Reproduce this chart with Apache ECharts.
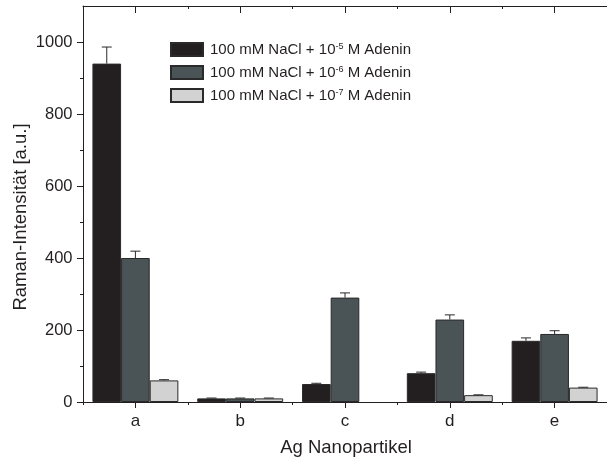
<!DOCTYPE html>
<html>
<head>
<meta charset="utf-8">
<script src="https://cdn.jsdelivr.net/npm/echarts@6/dist/echarts.min.js"></script>
<style>html,body{margin:0;padding:0;background:#fff;}#c{width:607px;height:463px;}</style>
</head>
<body>
<div id="c"></div>
<script>
var categories = ['a', 'b', 'c', 'd', 'e'];
var exponents = ['-5', '-6', '-7'];
var values5 = [940, 10, 50, 80, 170];
var errors5 = [46, 1, 2, 3, 8];
var values6 = [400, 10, 290, 229, 189];
var errors6 = [19, 1, 13, 13, 9];
var values7 = [60, 10, null, 19, 40];
var errors7 = [2, 1, 0, 1, 1];
var yMajorTicks = [0, 200, 400, 600, 800, 1000];
var yMinorTicks = [100, 300, 500, 700, 900];
var xTitle = 'Ag Nanopartikel';
var yTitle = 'Raman-Intensität [a.u.]';

var FONT = "'Liberation Sans', Arial, Helvetica, sans-serif";
var TXT = '#231f20';
var colors = ['#231f20', '#4a5355', '#d2d2d2'];
var CAT_GAP = 0.18;
var names = exponents.map(function (e) { return '100 mM NaCl + 10^' + e + ' M Adenin'; });
var valueSets = [values5, values6, values7];
var errorSets = [errors5, errors6, errors7];

var series = [];
valueSets.forEach(function (vals, k) {
  series.push({
    name: names[k], type: 'bar', data: vals,
    xAxisIndex: 0, yAxisIndex: 0,
    barGap: '0%', barCategoryGap: (CAT_GAP * 100) + '%',
    itemStyle: { color: colors[k], borderColor: '#2a2a2a', borderWidth: 1 },
    emphasis: { disabled: true }, animation: false
  });
});
valueSets.forEach(function (vals, k) {
  var data = vals.map(function (v, i) { return [i, v, errorSets[k][i]]; })
    .filter(function (d) { return d[1] !== null; });
  series.push({
    type: 'custom', xAxisIndex: 0, yAxisIndex: 0, z: 5, animation: false, silent: true,
    data: data,
    renderItem: function (params, api) {
      var idx = api.value(0), v = api.value(1), e = api.value(2);
      var band = api.size([1, 0])[0];
      var bw = band * (1 - CAT_GAP) / 3;
      var base = api.coord([idx, v]);
      var top = api.coord([idx, v + e]);
      var x = base[0] + (k - 1) * bw;
      var half = 5;
      var st = { stroke: '#2a2a2a', lineWidth: 1 };
      return {
        type: 'group', children: [
          { type: 'line', shape: { x1: x, y1: base[1], x2: x, y2: top[1] }, style: st },
          { type: 'line', shape: { x1: x - half, y1: top[1], x2: x + half, y2: top[1] }, style: st }
        ]
      };
    }
  });
});

var axLine = { show: true, onZero: false, lineStyle: { color: TXT, width: 1 } };
var option = {
  animation: false,
  textStyle: { fontFamily: FONT },
  grid: { left: 83, top: 6, width: 527, height: 396, containLabel: false },
  legend: {
    data: names, orient: 'vertical', left: 170, top: 42, padding: 0,
    icon: 'rect',
    itemWidth: 32, itemHeight: 13, itemGap: 8,
    selectedMode: false,
    formatter: function (name) {
      var k = names.indexOf(name);
      return '{t|100 mM NaCl + 10}{s|' + exponents[k] + '}{t| M Adenin}';
    },
    textStyle: {
      fontFamily: FONT, color: TXT, padding: [0, 0, 0, 2],
      rich: {
        t: { fontSize: 15, fontFamily: FONT, color: TXT },
        s: { fontSize: 9, fontFamily: FONT, color: TXT, verticalAlign: 'top', padding: [0, 0, 4, 0] }
      }
    }
  },
  xAxis: [
    { type: 'category', data: categories, position: 'bottom', boundaryGap: true,
      axisLine: axLine,
      axisTick: { show: true, alignWithLabel: true, length: 6, lineStyle: { color: TXT } },
      axisLabel: { fontSize: 17, color: TXT, margin: 11, fontFamily: FONT },
      splitLine: { show: false } },
    { type: 'category', data: categories, position: 'bottom', boundaryGap: true,
      axisLine: { show: false, onZero: false },
      axisTick: { show: true, length: 3, lineStyle: { color: TXT } },
      axisLabel: { show: false }, splitLine: { show: false } },
    { type: 'category', data: categories, position: 'top', boundaryGap: true,
      axisLine: axLine,
      axisTick: { show: true, inside: true, alignWithLabel: true, length: 7, lineStyle: { color: TXT } },
      axisLabel: { show: false }, splitLine: { show: false } },
    { type: 'category', data: categories, position: 'top', boundaryGap: true,
      axisLine: { show: false, onZero: false },
      axisTick: { show: true, inside: true, length: 3, lineStyle: { color: TXT } },
      axisLabel: { show: false }, splitLine: { show: false } }
  ],
  yAxis: [
    { type: 'value', min: 0, max: 1100, position: 'left',
      axisLine: { show: true, onZero: false, lineStyle: { color: TXT, width: 1 } },
      axisTick: { show: true, length: 6, customValues: yMajorTicks, lineStyle: { color: TXT } },
      axisLabel: { fontSize: 16.5, color: TXT, margin: 10.5, customValues: yMajorTicks, fontFamily: FONT,
        formatter: function (v) { return String(v); } },
      splitLine: { show: false } },
    { type: 'value', min: 0, max: 1100, position: 'left',
      axisLine: { show: false },
      axisTick: { show: true, length: 3, customValues: yMinorTicks, lineStyle: { color: TXT } },
      axisLabel: { show: false }, splitLine: { show: false } }
  ],
  graphic: [
    { type: 'text', x: 346, y: 448, silent: true,
      style: { text: xTitle, fontSize: 18.5, fontFamily: FONT, fill: TXT, align: 'center', verticalAlign: 'middle' } },
    { type: 'text', x: 21, y: 217, rotation: Math.PI / 2, silent: true,
      style: { text: yTitle, fontSize: 18.5, fontFamily: FONT, fill: TXT, align: 'center', verticalAlign: 'middle' } }
  ],
  series: series
};
var chart = echarts.init(document.getElementById('c'), null, { renderer: 'canvas' });
chart.setOption(option);
</script>
</body>
</html>
